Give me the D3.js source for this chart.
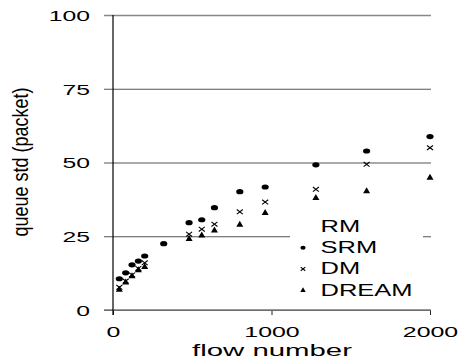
<!DOCTYPE html>
<html>
<head>
<script src="https://cdnjs.cloudflare.com/ajax/libs/d3/7.8.5/d3.min.js"></script>
<style>
  body { margin: 0; background: #fff; }
  svg { display: block; font-family: Arial, "Liberation Sans", sans-serif; }
</style>
</head>
<body>
<script>
// data
const flows = [40, 80, 120, 160, 200, 320, 480, 560, 640, 800, 960, 1280, 1600, 2000];
const srm   = [10.6, 12.6, 15.3, 16.6, 18.3, 22.5, 29.6, 30.6, 34.7, 40.1, 41.7, 49.2, 53.9, 58.8];
const dm    = [7.7, 9.8, 11.9, 14.1, 16.0, null, 25.7, 27.4, 29.1, 33.3, 36.6, 40.9, 49.4, 55.0];
const dream = [7.0, 9.5, 11.6, 13.6, 14.7, null, 24.2, 25.4, 27.1, 29.0, 33.0, 38.1, 40.4, 45.0];
const seriesNames = ["RM", "SRM", "DM", "DREAM"];
const yTicks = [0, 25, 50, 75, 100];
const xTicks = [0, 1000, 2000];

const width = 461, height = 360;
const x = d3.scaleLinear().domain([0, 2000]).range([113, 430]);
const y = d3.scaleLinear().domain([0, 100]).range([310, 15]);

const svg = d3.select("body").append("svg")
    .attr("width", width).attr("height", height);

// gridlines
svg.append("g")
    .attr("transform", "translate(104,0)")
    .call(d3.axisLeft(y).tickValues(yTicks).tickSize(-327).tickFormat(""))
    .call(g => g.select(".domain").remove())
    .call(g => g.selectAll("line").attr("stroke", "#555").attr("stroke-width", 1.2))
    .call(g => g.selectAll("line").filter(d => d === 100).attr("stroke", "#888").attr("stroke-width", 1.6));

// y tick labels (text is stretched wide in the picture)
svg.append("g")
    .attr("transform", "translate(90,0)")
    .call(d3.axisLeft(y).tickValues(yTicks).tickSize(0).tickPadding(0))
    .call(g => g.select(".domain").remove())
    .call(g => g.selectAll("text")
        .attr("x", null).attr("dy", "0.36em")
        .attr("font-size", 15).attr("fill", "#000")
        .attr("font-family", "Arial, 'Liberation Sans', sans-serif")
        .attr("transform", "scale(1.65,1)"));

// x axis
svg.append("g")
    .attr("transform", `translate(0,${y(0)})`)
    .call(d3.axisBottom(x).tickValues(xTicks).tickSize(5).tickPadding(0).tickFormat(d3.format("d")))
    .call(g => g.select(".domain").remove())
    .call(g => g.selectAll("line").attr("stroke", "#222"))
    .call(g => g.selectAll("text")
        .attr("y", 0).attr("dy", null)
        .attr("font-size", 15).attr("fill", "#000")
        .attr("font-family", "Arial, 'Liberation Sans', sans-serif")
        .attr("transform", "translate(0,27) scale(1.66,1)"));

// x axis baseline (grey) and y axis (black)
svg.append("line")
    .attr("x1", 104).attr("x2", 431).attr("y1", y(0)).attr("y2", y(0))
    .attr("stroke", "#777").attr("stroke-width", 1.4);
svg.append("line")
    .attr("x1", x(0)).attr("x2", x(0)).attr("y1", y(100)).attr("y2", y(0) + 5)
    .attr("stroke", "#000").attr("stroke-width", 1.2);

// axis titles
svg.append("text")
    .attr("transform", "translate(272,356) scale(1.78,1)")
    .attr("text-anchor", "middle")
    .attr("font-size", 16.5).attr("fill", "#000")
    .text("flow number");
svg.append("text")
    .attr("transform", "translate(28,162) scale(1.2,1) rotate(-90)")
    .attr("text-anchor", "middle")
    .attr("font-size", 18).attr("fill", "#000")
    .text("queue std (packet)");

// markers
function dot(sel, rx, ry) {
    sel.append("ellipse").attr("rx", rx).attr("ry", ry).attr("fill", "#000");
}
function cross(sel, w, h) {
    sel.append("path")
        .attr("d", `M${-w/2},${-h/2}L${w/2},${h/2}M${-w/2},${h/2}L${w/2},${-h/2}`)
        .attr("stroke", "#000").attr("stroke-width", 1.1).attr("fill", "none");
}
function tri(sel, w, h) {
    sel.append("path")
        .attr("d", `M0,${-h*0.6}L${w/2},${h*0.4}L${-w/2},${h*0.4}Z`)
        .attr("fill", "#000");
}

const pts = (vals) => flows.map((f, i) => ({ f, v: vals[i] })).filter(d => d.v != null);

svg.append("g").selectAll("g").data(pts(srm)).join("g")
    .attr("transform", d => `translate(${x(d.f)},${y(d.v)})`)
    .call(dot, 3.6, 2.6);
svg.append("g").selectAll("g").data(pts(dm)).join("g")
    .attr("transform", d => `translate(${x(d.f)},${y(d.v)})`)
    .call(cross, 6, 4.6);
svg.append("g").selectAll("g").data(pts(dream)).join("g")
    .attr("transform", d => `translate(${x(d.f)},${y(d.v)})`)
    .call(tri, 7, 6);

// legend
const legend = svg.append("g");
legend.append("rect")
    .attr("x", 290).attr("y", 217).attr("width", 133).attr("height", 86)
    .attr("fill", "#fff");
const markers = [null, (s) => dot(s, 2.6, 2), (s) => cross(s, 4.6, 3.6), (s) => tri(s, 5.4, 4.6)];
const items = legend.selectAll("g.item").data(seriesNames).join("g")
    .attr("class", "item")
    .attr("transform", (d, i) => `translate(303,${232 + i * 21.2})`);
items.each(function (d, i) {
    const g = d3.select(this);
    if (markers[i]) {
        g.append("g").attr("transform", "translate(0,-5.5)").call(markers[i]);
    }
    g.append("text")
        .attr("transform", "translate(17.5,0) scale(1.5,1)")
        .attr("font-size", 17).attr("fill", "#000")
        .text(d);
});
</script>
</body>
</html>
